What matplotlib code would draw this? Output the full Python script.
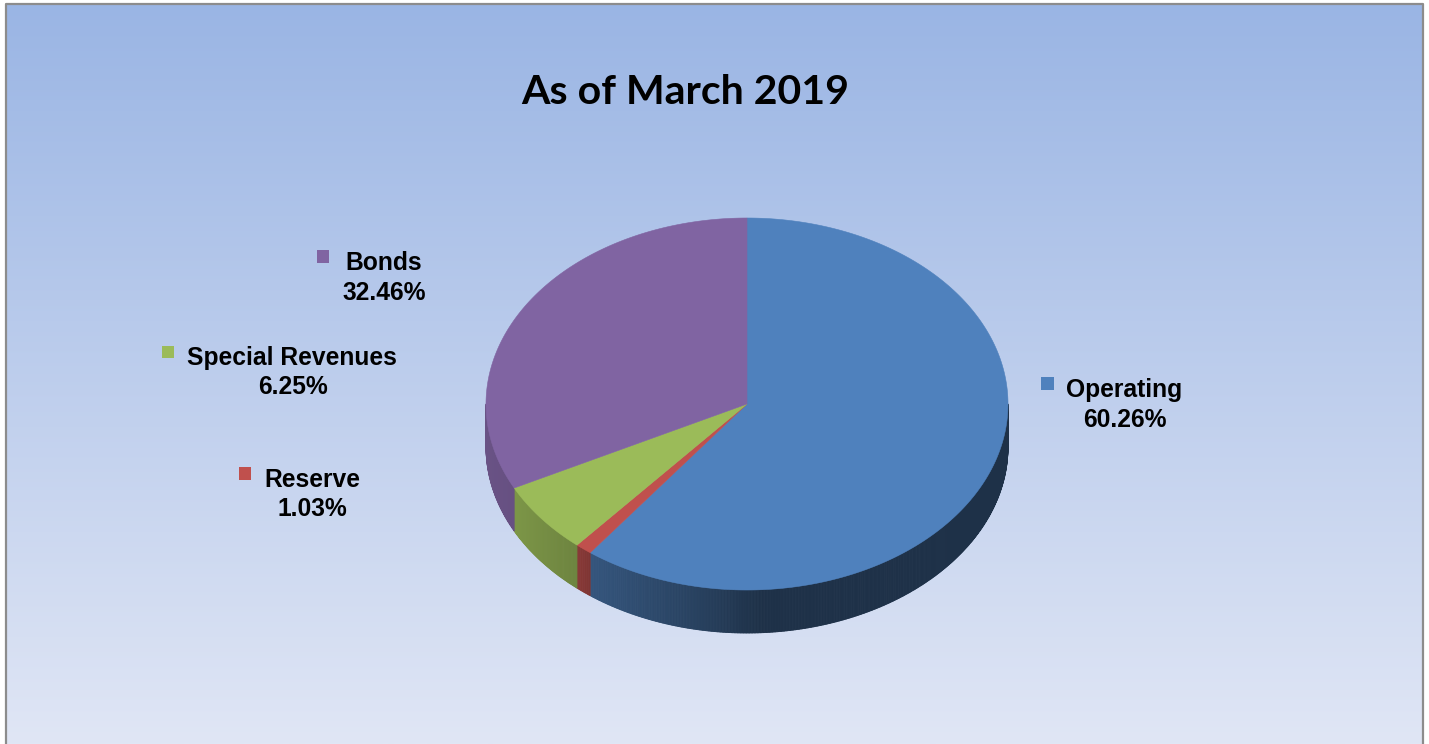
import numpy as np
import matplotlib
matplotlib.use("Agg")
import matplotlib.pyplot as plt
from matplotlib.patches import Polygon, Rectangle
from matplotlib.collections import PolyCollection

# Fund balances, share of total (%)
categories = ["Operating", "Reserve", "Special Revenues", "Bonds"]
shares = [60.26, 1.03, 6.25, 32.46]
colors = ["#4F81BD", "#C0504D", "#9BBB59", "#8064A2"]
title = "As of March 2019"

W, H = 1429, 744
fig = plt.figure(figsize=(W / 100, H / 100), dpi=100)
ax = fig.add_axes([0, 0, 1, 1])
ax.set_xlim(0, W)
ax.set_ylim(H, 0)
ax.axis("off")

# Chart area: vertical gradient with thin grey frame
top_rgb = np.array([154, 181, 228]) / 255
bot_rgb = np.array([224, 230, 245]) / 255
t = np.linspace(0, 1, 256)[:, None]
grad = (top_rgb * (1 - t) + bot_rgb * t)[:, None, :]
ax.imshow(grad, extent=[7, 1423, 744, 4], aspect="auto", zorder=0, interpolation="bilinear")
ax.plot([6.5, 6.5, 1423.5, 1423.5], [744, 3.5, 3.5, 744], color="#8c8c8c", lw=1.6, zorder=1)

ax.text(685, 104, title, ha="center", va="baseline", fontsize=29.5,
        fontweight="bold", family="Lato", color="black", zorder=5)

# 3-D pie geometry (ellipse in pixel space)
cx, cy, rx, ry, depth = 747, 404, 261, 186, 43


def pt(ang_deg, dy=0.0):
    a = np.radians(ang_deg)
    return cx + rx * np.sin(a), cy - ry * np.cos(a) + dy


def shade(ang_deg):
    s = np.sin(np.radians(ang_deg))
    return np.interp(s, [-1.0, -0.89, -0.64, -0.6, -0.18, 0.05, 1.0],
                     [0.82, 0.80, 0.70, 0.66, 0.50, 0.38, 0.38])


fracs = np.array(shares) / np.sum(shares)
edges = np.concatenate([[0], np.cumsum(fracs) * 360])

# side walls (front half only)
for i, c in enumerate(colors):
    a0, a1 = max(edges[i], 90), min(edges[i + 1], 270)
    if a1 <= a0:
        continue
    base = np.array(matplotlib.colors.to_rgb(c))
    angs = np.linspace(a0, a1, max(2, int((a1 - a0) * 3)))
    polys, fcs = [], []
    for p, q in zip(angs[:-1], angs[1:]):
        x0, y0 = pt(p)
        x1, y1 = pt(q)
        polys.append([(x0, y0), (x1, y1), (x1, y1 + depth), (x0, y0 + depth)])
        fcs.append(np.clip(base * shade((p + q) / 2), 0, 1))
    ax.add_collection(PolyCollection(polys, facecolors=fcs, edgecolors=fcs,
                                     linewidths=0.6, zorder=2))

# top faces
for i, c in enumerate(colors):
    angs = np.linspace(edges[i], edges[i + 1], max(2, int((edges[i + 1] - edges[i]) * 3)))
    xs, ys = pt(angs)
    verts = [(cx, cy)] + list(zip(xs, ys))
    ax.add_patch(Polygon(verts, closed=True, facecolor=c, edgecolor=c,
                         linewidth=0.4, zorder=3))

# data labels: marker square, category name, percentage
label_font = dict(family="Liberation Sans", fontweight="bold", fontsize=17.7, color="black", zorder=5)
label_pos = {
    "Operating": (1041.5, 1066, 397, 1124.5, 427),
    "Reserve": (239, 264, 487, 312.5, 516),
    "Special Revenues": (162, 187, 365.5, 293, 394),
    "Bonds": (317, 345.5, 270, 384.5, 300),
}
for name, val, c in zip(categories, shares, colors):
    mx, tx, by, vx, vy = label_pos[name]
    ax.add_patch(Rectangle((mx, by - 20), 12.5, 12.5, facecolor=c, edgecolor="none", zorder=5))
    ax.text(tx, by, name, ha="left", va="baseline", **label_font)
    ax.text(vx, vy, f"{val:.2f}%", ha="center", va="baseline", **label_font)

fig.savefig("out.png", dpi=100)
